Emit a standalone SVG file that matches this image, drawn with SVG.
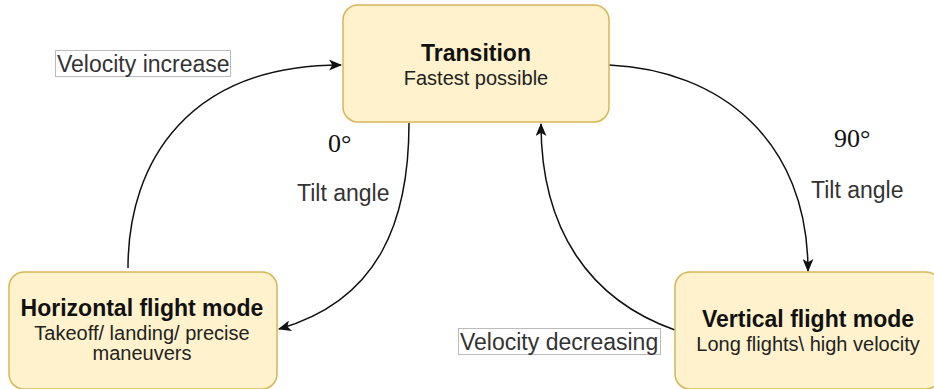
<svg xmlns="http://www.w3.org/2000/svg" width="934" height="389" viewBox="0 0 934 389">
<style>
.node{fill:#fff2cc;stroke:#d6b656;stroke-width:1.5}
.t{font-family:"Liberation Sans",Arial,sans-serif;fill:#111;text-anchor:middle}
.b{font-weight:bold;font-size:23px}
.s{font-size:20px;fill:#222}
.lab{font-family:"Liberation Sans",Arial,sans-serif;font-size:23px;fill:#333}
.lbox{fill:#fff;stroke:#bbb;stroke-width:1}
.deg{font-family:"Liberation Serif","Times New Roman",serif;font-size:26px;fill:#111}
.edge{fill:none;stroke:#111;stroke-width:1.5}
</style>
<defs>
<marker id="arr" viewBox="0 0 12 10" refX="11" refY="5" markerWidth="13" markerHeight="11" markerUnits="userSpaceOnUse" orient="auto">
<path d="M0,0 L12,5 L0,10 L3,5 Z" fill="#111"/>
</marker>
</defs>
<rect width="934" height="389" fill="#fff"/>
<g id="connectors">
<path class="edge" d="M128,268 C128,160 190,65 341,65" marker-end="url(#arr)"/>
<path class="edge" d="M409,123 C409,220 380,300 279,329" marker-end="url(#arr)"/>
<path class="edge" d="M609,65 C720,70 808,140 808,271" marker-end="url(#arr)"/>
<path class="edge" d="M675,330 C590,300 541,230 541,124" marker-end="url(#arr)"/>
</g>
<g id="transition">
<rect class="node" x="343" y="5" width="266" height="117" rx="15"/>
<text class="t b" x="476" y="61">Transition</text>
<text class="t s" x="476" y="85">Fastest possible</text>
</g>
<g id="horizontal">
<rect class="node" x="9" y="272" width="268" height="117" rx="15"/>
<text class="t b" x="142" y="316">Horizontal flight mode</text>
<text class="t s" x="142" y="339.5">Takeoff/ landing/ precise</text>
<text class="t s" x="142" y="360">maneuvers</text>
</g>
<g id="vertical">
<rect class="node" x="675" y="272" width="266" height="117" rx="15"/>
<text class="t b" x="808" y="327">Vertical flight mode</text>
<text class="t s" x="808" y="351">Long flights\ high velocity</text>
</g>
<g id="labels">
<rect class="lbox" x="55.5" y="50.5" width="175" height="26"/>
<text class="lab" x="57" y="72">Velocity increase</text>
<rect class="lbox" x="458.5" y="328.5" width="202" height="26"/>
<text class="lab" x="460" y="350">Velocity decreasing</text>
<text class="deg" x="328" y="152">0°</text>
<text class="lab" x="297" y="201">Tilt angle</text>
<text class="deg" x="834" y="147">90°</text>
<text class="lab" x="811" y="198">Tilt angle</text>
</g>
</svg>
